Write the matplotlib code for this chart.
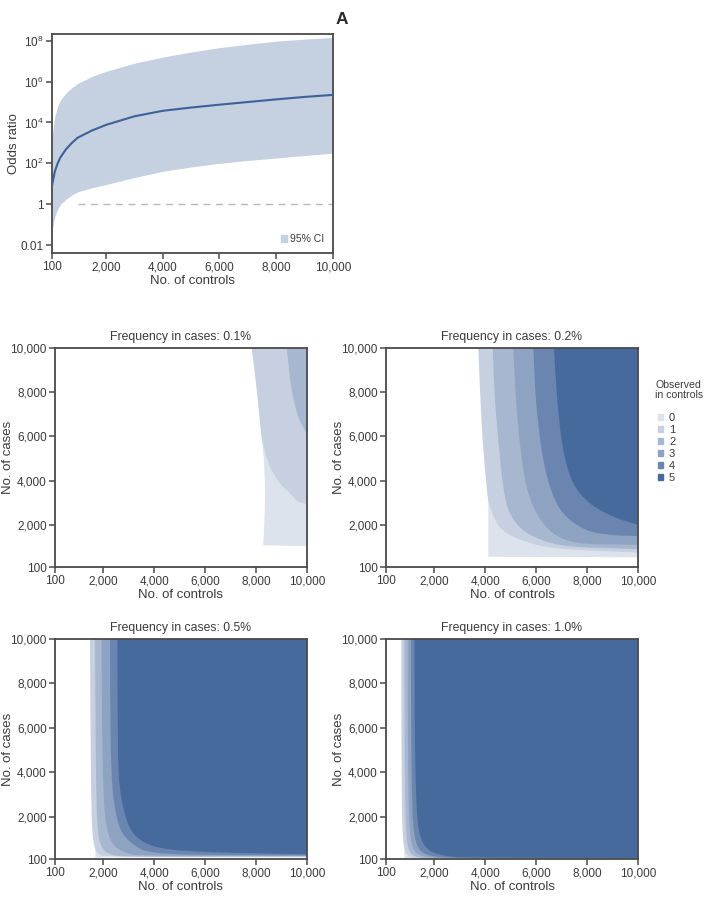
import numpy as np
import matplotlib
matplotlib.use("Agg")
import matplotlib.pyplot as plt
from matplotlib.patches import Patch, PathPatch
from matplotlib.path import Path
from matplotlib.ticker import FixedLocator, FixedFormatter

plt.rcParams['font.family'] = ['Liberation Sans Narrow', 'Liberation Sans', 'DejaVu Sans']
plt.rcParams['mathtext.fontset'] = 'custom'
plt.rcParams['mathtext.rm'] = 'Liberation Sans'
plt.rcParams['mathtext.it'] = 'Liberation Sans'

TXT = '#3a3a3a'
SPINE = '#4a4a4a'

# ---------------- Panel A data ----------------
controls_a = [100, 200, 300, 400, 600, 800, 1000, 1500, 2000, 3000, 4000,
              5000, 6000, 7000, 8000, 9000, 10000]
log_or_median = [0.9, 1.6, 2.0, 2.3, 2.7, 3.0, 3.25, 3.6, 3.88, 4.3, 4.57,
                 4.73, 4.87, 5.0, 5.13, 5.25, 5.35]
log_or_upper = [3.3, 4.3, 4.8, 5.1, 5.45, 5.7, 5.9, 6.25, 6.5, 6.9, 7.2,
                7.45, 7.66, 7.83, 7.98, 8.08, 8.16]
log_or_lower = [-1.3, -0.6, -0.25, 0.0, 0.25, 0.45, 0.6, 0.8, 0.96, 1.3, 1.61,
                1.82, 2.0, 2.14, 2.26, 2.38, 2.5]
null_or = 1
null_from, null_to = 1000, 10000
a_yticks = [0.01, 1, 1e2, 1e4, 1e6, 1e8]
a_yticklabels = ['0.01', '1', r'$\mathregular{10^2}$', r'$\mathregular{10^4}$',
                 r'$\mathregular{10^6}$', r'$\mathregular{10^8}$']
xticks = [100, 2000, 4000, 6000, 8000, 10000]
xticklabels = ['100', '2,000', '4,000', '6,000', '8,000', '10,000']

# ---------------- Contour panels data ----------------
levels = ['0', '1', '2', '3', '4', '5']
level_colors = ['#dde3ec', '#c6d0e1', '#a8b7d0', '#8ea2c2', '#6a86b0', '#476a9c']
freq_titles = ['Frequency in cases: 0.1%', 'Frequency in cases: 0.2%',
               'Frequency in cases: 0.5%', 'Frequency in cases: 1.0%']

# boundaries: (controls, cases) per observed level; region lies to the upper-right
f01_x = [[8100, 8230, 8300, 8350, 8320, 8280, 10000],
         [7827, 8024, 8221, 8546, 8939, 9332, 9659, 10000],
         [9202, 9398, 9659, 10000]]
f01_y = [[10000, 6000, 5000, 3600, 2000, 1080, 1040],
         [10000, 8101, 5841, 4634, 3884, 3432, 3052, 2950],
         [10000, 8101, 6894, 6072]]
f01_lv = [0, 1, 2]
f01_corner = [[5], [2], []]

f02_x = [[4100, 4120, 4120, 10000],
         [3726, 3857, 4029, 4186, 4708, 6020, 7328, 10000],
         [4291, 4382, 4551, 4708, 4970, 5625, 6936, 10000],
         [5102, 5207, 5391, 5626, 6019, 6674, 7590, 10000],
         [5888, 5993, 6217, 6544, 7066, 7983, 9031, 10000],
         [6700, 6830, 7066, 7459, 8114, 9031, 10000]]
f02_y = [[10000, 3000, 560, 540],
         [10000, 6596, 4033, 2827, 1750, 1100, 900, 750],
         [10000, 7649, 5389, 3731, 2527, 1650, 1100, 900],
         [10000, 7649, 5389, 3731, 2527, 1622, 1200, 1100],
         [10000, 7649, 5389, 3731, 2527, 1773, 1547, 1500],
         [10000, 7649, 5389, 3884, 2979, 2374, 2000]]
f02_lv = [0, 1, 2, 3, 4, 5]
f02_corner = [[2], [], [], [], [], []]

f05_x = [[1560, 1600, 1680, 1690, 10000],
         [1475, 1500, 1541, 1606, 1737, 1999, 10000],
         [1671, 1697, 1737, 1802, 1933, 2194, 2784, 10000],
         [1933, 1959, 2025, 2130, 2327, 2654, 3308, 10000],
         [2261, 2287, 2366, 2523, 2719, 3046, 3569, 4618, 7000, 10000],
         [2548, 2561, 2601, 2719, 2917, 3177, 3569, 3963, 4618, 6000, 8154, 10000]]
f05_y = [[10000, 2000, 600, 170, 170],
         [10000, 5455, 2000, 955, 430, 240, 200],
         [10000, 5455, 2455, 1255, 653, 352, 220, 215],
         [10000, 5455, 2755, 1550, 879, 505, 280, 240],
         [10000, 5455, 3205, 2005, 1330, 879, 505, 330, 280, 260],
         [10000, 6950, 3956, 2755, 1855, 1255, 879, 680, 530, 420, 352, 310]]
f05_lv = [0, 1, 2, 3, 4, 5]
f05_corner = [[3], [], [], [], [], []]

f10_x = [[780, 800, 820, 830, 10000],
         [700, 705, 720, 745, 790, 860, 1000, 1400, 10000],
         [820, 830, 850, 885, 940, 1040, 1250, 1800, 10000],
         [950, 960, 985, 1030, 1110, 1250, 1550, 2200, 10000],
         [1080, 1090, 1120, 1180, 1300, 1500, 1900, 2600, 10000],
         [1220, 1230, 1279, 1370, 1565, 1895, 2418, 3000, 10000]]
f10_y = [[10000, 2000, 500, 110, 105],
         [10000, 6000, 3205, 1550, 800, 430, 220, 130, 110],
         [10000, 6000, 3205, 1550, 800, 430, 220, 135, 115],
         [10000, 6000, 3205, 1550, 800, 430, 230, 145, 120],
         [10000, 6000, 3205, 1550, 800, 430, 240, 160, 125],
         [10000, 6000, 3205, 1550, 800, 430, 250, 175, 140]]
f10_lv = [0, 1, 2, 3, 4, 5]
f10_corner = [[3], [], [], [], [], []]

panels_x = [f01_x, f02_x, f05_x, f10_x]
panels_y = [f01_y, f02_y, f05_y, f10_y]
panels_lv = [f01_lv, f02_lv, f05_lv, f10_lv]
panels_corner = [f01_corner, f02_corner, f05_corner, f10_corner]

W, H = 705, 915
fig = plt.figure(figsize=(W / 100, H / 100), dpi=100)

TICK_FS = 8.5
LABEL_FS = 9.5
TITLE_FS = 8.8


def px_axes(l, t, r, b):
    return fig.add_axes([l / W, 1 - b / H, (r - l) / W, (b - t) / H])


def style(ax):
    for s in ax.spines.values():
        s.set_color(SPINE)
        s.set_linewidth(1.3)
    ax.tick_params(direction='out', length=4, width=1.1, color=SPINE,
                   labelcolor=TXT, labelsize=TICK_FS, pad=2)


def unit(v):
    n = np.hypot(v[0], v[1])
    return v / n if n > 0 else v


def region_path(xs, ys, corners):
    """Smooth (cubic Bezier) boundary through the read points, closed via the
    top-right corner of the plot."""
    P = np.column_stack([xs, ys]).astype(float)
    n = len(P)
    tin, tout = [], []
    for i in range(n):
        if i == 0:
            d = unit(P[1] - P[0]); tin.append(d); tout.append(d)
        elif i == n - 1:
            d = unit(P[-1] - P[-2]); tin.append(d); tout.append(d)
        elif i in corners:
            tin.append(unit(P[i] - P[i - 1])); tout.append(unit(P[i + 1] - P[i]))
        else:
            d = unit(P[i + 1] - P[i - 1]); tin.append(d); tout.append(d)
    verts = [P[0]]
    codes = [Path.MOVETO]
    for i in range(n - 1):
        L = np.hypot(*(P[i + 1] - P[i]))
        verts += [P[i] + tout[i] * L / 3, P[i + 1] - tin[i + 1] * L / 3, P[i + 1]]
        codes += [Path.CURVE4] * 3
    verts += [np.array([10000.0, 10000.0]), P[0]]
    codes += [Path.LINETO, Path.CLOSEPOLY]
    return Path(np.array(verts), codes)


# ---------------- Panel A ----------------
axA = px_axes(52, 34, 333, 253)
style(axA)
xa = np.array(controls_a)
axA.set_yscale('log')
axA.hlines(null_or, null_from, null_to, color='#b8b8b8', lw=1.0,
           linestyles=[(0, (5, 4))], zorder=1)
axA.fill_between(xa, np.power(10.0, log_or_lower), np.power(10.0, log_or_upper),
                 color='#c5d0e0', lw=0, zorder=2)
axA.plot(xa, np.power(10.0, log_or_median), color='#3d6299', lw=1.5, zorder=3)
axA.set_xlim(100, 10000)
axA.set_ylim(10 ** -2.39, 10 ** 8.33)
axA.yaxis.set_major_locator(FixedLocator(a_yticks))
axA.yaxis.set_major_formatter(FixedFormatter(a_yticklabels))
axA.yaxis.set_minor_locator(FixedLocator([]))
axA.set_xticks(xticks)
axA.set_xticklabels(xticklabels)
axA.set_xlabel('No. of controls', fontsize=LABEL_FS, color=TXT, labelpad=1)
axA.set_ylabel('Odds ratio', fontsize=LABEL_FS, color=TXT)
axA.yaxis.set_label_coords((20 - 52) / 281, 0.5)
axA.legend(handles=[Patch(color='#c5d0e0', label='95% CI')], loc='lower right',
           frameon=False, fontsize=7.5, handlelength=0.55, handleheight=0.55,
           handletextpad=0.3, borderaxespad=0.45, labelcolor=TXT)
fig.text(342 / W, 1 - 20 / H, 'A', fontsize=12.5, fontweight='bold', color='#2a2a2a',
         ha='center', va='center')

# ---------------- Contour panels ----------------
boxes = [(55, 348, 307, 567), (386, 348, 638, 567),
         (55, 639, 307, 859), (386, 639, 638, 859)]
for i, (l, t, r, b) in enumerate(boxes):
    ax = px_axes(l, t, r, b)
    style(ax)
    for bx, by, lv, cn in zip(panels_x[i], panels_y[i], panels_lv[i], panels_corner[i]):
        ax.add_patch(PathPatch(region_path(bx, by, cn), facecolor=level_colors[lv],
                               edgecolor='none', lw=0, zorder=2 + lv))
    ax.set_xlim(100, 10000)
    ax.set_ylim(100, 10000)
    ax.set_xticks(xticks)
    ax.set_xticklabels(xticklabels)
    ax.set_yticks(xticks)
    ax.set_yticklabels(xticklabels)
    ax.set_xlabel('No. of controls', fontsize=LABEL_FS, color=TXT, labelpad=1)
    ax.set_ylabel('No. of cases', fontsize=LABEL_FS, color=TXT)
    ax.yaxis.set_label_coords(-41 / (r - l), 0.5)
    ax.set_title(freq_titles[i], fontsize=TITLE_FS, color=TXT, pad=6)
    for s in ax.spines.values():
        s.set_zorder(10)

# legend for observed in controls
fig.text(655 / W, 1 - 390 / H, 'Observed\nin controls', fontsize=7.6, color=TXT,
         ha='left', va='center', linespacing=1.1)
handles = [Patch(color=c, label=lab) for c, lab in zip(level_colors, levels)]
fig.legend(handles=handles, loc='upper left', bbox_to_anchor=(654 / W, 1 - 409 / H),
           frameon=False, fontsize=8, handlelength=0.45, handleheight=0.45,
           handletextpad=0.5, labelspacing=0.17, borderaxespad=0, labelcolor=TXT)

fig.savefig('out.png', dpi=100)
